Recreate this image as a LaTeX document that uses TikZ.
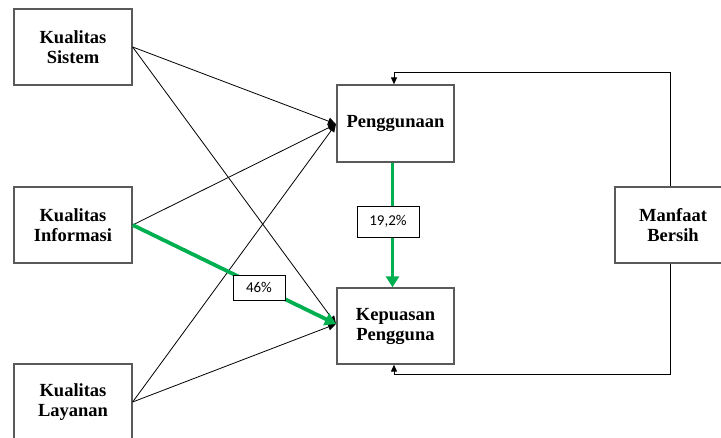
\documentclass[tikz,border=0pt]{standalone}
\usepackage{fontspec}
\setmainfont{Liberation Serif}
\newfontfamily\labelfont{Carlito}
\usetikzlibrary{arrows.meta}
\definecolor{boxgray}{RGB}{90,90,90}
\definecolor{pathgreen}{RGB}{0,176,80}
\tikzset{
  varbox/.style={draw=boxgray, line width=1.3pt, fill=white, minimum width=118pt, minimum height=76pt,
    align=center, inner sep=0pt, font=\fontsize{18.5}{20}\selectfont\bfseries},
  link/.style={draw=black, line width=0.8pt, -{Triangle[length=8pt,width=7pt]}},
  greenlink/.style={draw=pathgreen, line width=3.8pt, -{Triangle[length=11pt,width=13pt]}},
  pctbox/.style={draw=black, line width=0.8pt, fill=white, inner sep=0pt, font=\labelfont\fontsize{15}{17}\selectfont},
  loopline/.style={draw=black, line width=1pt},
}
\begin{document}
\begin{tikzpicture}[x=1pt,y=-1pt]
\clip (0,0) rectangle (721,438);
\fill[white] (0,0) rectangle (721,438);
\node[varbox] (sis) at (73,47) {Kualitas\\Sistem};
\node[varbox] (inf) at (73,225) {Kualitas\\Informasi};
\node[varbox] (lay) at (73,402) {Kualitas\\Layanan};
\node[varbox, minimum width=117pt, minimum height=77pt] (peng) at (395.5,123.5) {Penggunaan};
\node[varbox, minimum width=117pt] (kep) at (395.5,326) {Kepuasan\\Pengguna};
\node[varbox, minimum width=116pt] (man) at (673,225) {Manfaat\\Bersih};

\coordinate (pin) at (336,124);
\coordinate (kin) at (336,324);
\draw[link] (sis.east) -- (pin);
\draw[link] (sis.east) -- (kin);
\draw[link] (inf.east) -- (pin);
\draw[link] (lay.east) -- (pin);
\draw[link] (lay.east) -- (kin);
\draw[greenlink] (inf.east) -- (kin);
\node[pctbox, minimum width=52pt, minimum height=25pt] (p46) at (259,287.5) {46\%};

\draw[greenlink] ([xshift=-3pt]peng.south) -- ([xshift=-3pt]kep.north);
\node[pctbox, minimum width=62pt, minimum height=31pt] (p19) at (388,221.5) {19,2\%};

\coordinate (ctop) at (394,73);
\coordinate (cbot) at (394,375);
\draw[loopline, -{Triangle[length=7pt,width=6pt]}] ([xshift=-3pt]man.north) |- (ctop) -- (ctop |- peng.north);
\draw[loopline, -{Triangle[length=7pt,width=6pt]}] ([xshift=-3pt]man.south) |- (cbot) -- (cbot |- kep.south);
\end{tikzpicture}
\end{document}
